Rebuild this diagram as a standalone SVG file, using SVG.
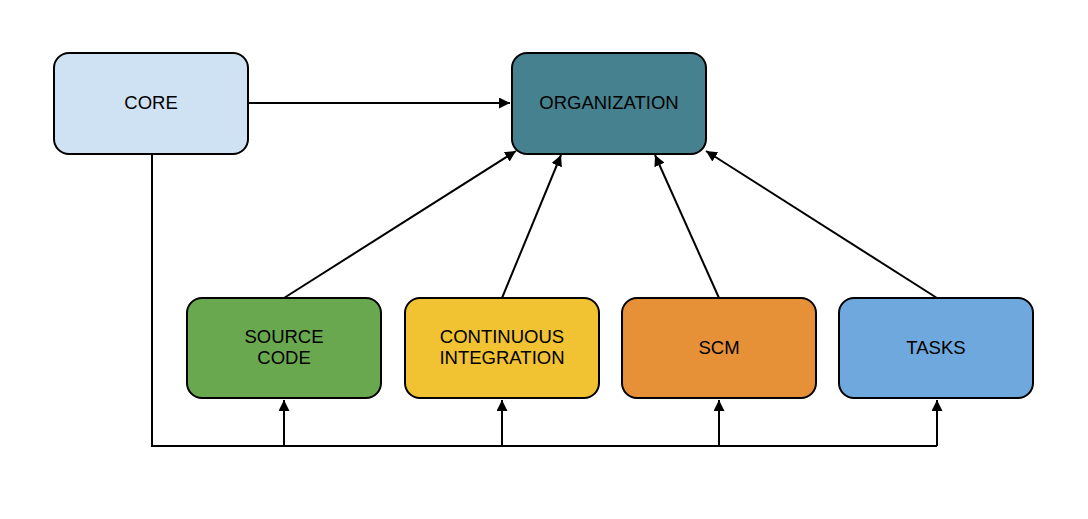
<svg xmlns="http://www.w3.org/2000/svg" width="1088" height="519" viewBox="0 0 1088 519">
<style>
.n{stroke:#000;stroke-width:2}
.t{font-family:"Liberation Sans",Arial,sans-serif;font-size:18.5px;fill:#000;text-anchor:middle}
.c{stroke:#000;stroke-width:2;fill:none}
</style>
<defs>
<marker id="a" viewBox="0 0 10 10" refX="10" refY="5" markerWidth="5.5" markerHeight="5.5" orient="auto" markerUnits="strokeWidth">
<path d="M0,0L10,5L0,10z" fill="#000"/>
</marker>
</defs>
<rect width="1088" height="519" fill="#fff"/>
<g id="connectors">
<path class="c" d="M248,103H510" marker-end="url(#a)"/>
<path class="c" d="M152,154V446H937"/>
<path class="c" d="M284,446V400" marker-end="url(#a)"/>
<path class="c" d="M502,446V400" marker-end="url(#a)"/>
<path class="c" d="M719,446V400" marker-end="url(#a)"/>
<path class="c" d="M937,446V400" marker-end="url(#a)"/>
<path class="c" d="M284,298L516,151" marker-end="url(#a)"/>
<path class="c" d="M502,298L561,155" marker-end="url(#a)"/>
<path class="c" d="M719,298L655,155" marker-end="url(#a)"/>
<path class="c" d="M937,298L706,151" marker-end="url(#a)"/>
</g>
<g id="core"><rect class="n" x="54" y="53" width="194" height="101" rx="15" fill="#cfe2f3"/><text class="t" x="151" y="109">CORE</text></g>
<g id="organization"><rect class="n" x="512" y="53" width="194" height="101" rx="15" fill="#45818e"/><text class="t" x="609" y="109">ORGANIZATION</text></g>
<g id="source-code"><rect class="n" x="187" y="298" width="194" height="100" rx="15" fill="#6aa84f"/><text class="t" x="284" y="343">SOURCE</text><text class="t" x="284" y="364">CODE</text></g>
<g id="ci"><rect class="n" x="405" y="298" width="194" height="100" rx="15" fill="#f1c232"/><text class="t" x="502" y="343">CONTINUOUS</text><text class="t" x="502" y="364">INTEGRATION</text></g>
<g id="scm"><rect class="n" x="622" y="298" width="194" height="100" rx="15" fill="#e69138"/><text class="t" x="719" y="354">SCM</text></g>
<g id="tasks"><rect class="n" x="839" y="298" width="194" height="100" rx="15" fill="#6fa8dc"/><text class="t" x="936" y="354">TASKS</text></g>
</svg>
